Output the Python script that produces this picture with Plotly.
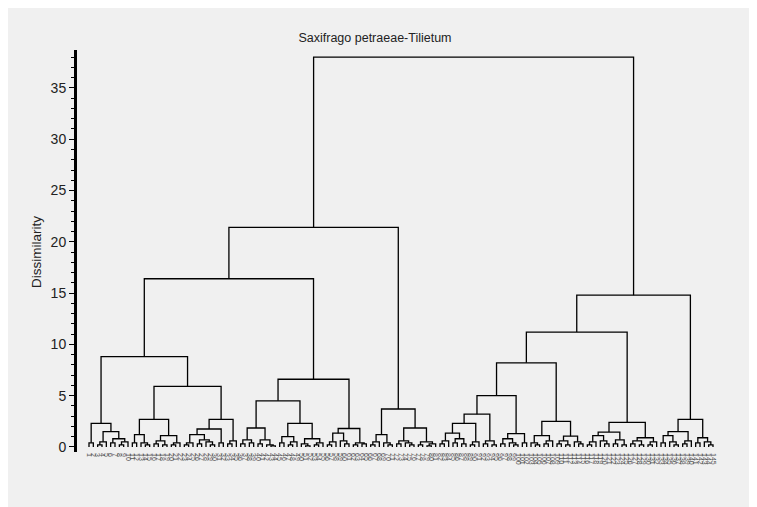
import plotly.graph_objects as go

X = 0  # a single relevé (leaf)

# ---- bottom-level clusters: [merge height, left, right] (heights = dissimilarity) ----
clA = [2.3, [0.4, X, X], [1.5, [0.5, [0.2, X, X], X], [0.8, [0.4, X, X], [0.5, [0.2, X, X], X]]]]
clB = [2.7, [1.2, [0.4, X, X], [0.4, X, [0.2, X, X]]], [1.1, [0.6, [0.3, X, X], [0.2, X, X]], [0.4, [0.2, X, X], X]]]
clC = [2.7, [1.75, [1.2, [0.4, [0.2, X, X], X], [0.7, [0.3, X, X], [0.5, X, [0.2, X, X]]]], [0.4, X, X]],
       [0.6, [0.3, X, X], X]]
clD = [4.5, [1.85, [0.7, [0.3, X, X], [0.4, X, X]], [0.7, [0.3, X, X], [0.2, X, [0.1, X, X]]]],
       [2.3, [1.0, [0.4, X, X], [0.5, [0.2, X, X], X]], [0.8, [0.3, X, [0.1, X, X]], [0.4, [0.2, X, X], X]]]]
clE = [1.8, [1.35, [0.5, [0.2, X, X], X], [0.6, X, [0.3, X, X]]], [0.4, [0.2, X, X], [0.3, X, X]]]
clF = [1.2, [0.5, [0.2, X, X], X], [0.4, X, [0.2, X, X]]]
clG = [1.85, [0.6, [0.3, X, X], [0.4, X, [0.2, X, X]]], [0.5, [0.2, X, X], [0.3, [0.1, X, X], X]]]
clK = [3.2, [2.3, [1.35, [0.6, [0.3, X, X], X], [0.8, [0.4, X, X], [0.3, X, X]]], [0.5, [0.2, X, X], X]],
       [0.6, [0.3, X, X], [0.2, X, X]]]
clL = [1.3, [0.8, [0.3, X, X], [0.4, X, [0.2, X, X]]], [0.4, X, X]]
clJ = [2.5, [1.1, [0.4, X, [0.2, X, X]], [0.6, [0.3, X, X], X]], [1.05, [0.6, [0.3, X, X], [0.2, X, X]], [0.5, X, [0.3, X, X]]]]
clI = [2.4, [1.45, [1.1, [0.5, [0.2, X, X], X], [0.6, X, [0.3, X, X]]], [0.7, [0.3, X, X], [0.2, X, X]]],
       [0.9, [0.6, [0.3, X, X], [0.2, X, X]], [0.5, [0.2, X, X], X]]]
clH = [2.7, [1.5, [1.1, [0.4, X, X], [0.5, X, [0.2, X, X]]], [0.6, [0.3, X, X], X]], [0.9, [0.4, X, X], [0.5, X, [0.2, X, X]]]]

# ---- upper merges ----
h_N7, h_N5, h_N6, h_N3, h_N4, h_N1 = 5.9, 8.8, 6.6, 16.4, 3.7, 21.4
h_N10, h_N9, h_N8, h_N2, h_root = 5.0, 8.2, 11.2, 14.8, 38.0

N7 = [h_N7, clB, clC]
N5 = [h_N5, clA, N7]
N6 = [h_N6, clD, clE]
N3 = [h_N3, N5, N6]
N4 = [h_N4, clF, clG]
N1 = [h_N1, N3, N4]
N10 = [h_N10, clK, clL]
N9 = [h_N9, N10, clJ]
N8 = [h_N8, N9, clI]
N2 = [h_N2, N8, clH]
root = [h_root, N1, N2]

title_text = "Saxifrago petraeae-Tilietum"
y_title = "Dissimilarity"
y_ticks = [0, 5, 10, 15, 20, 25, 30, 35]

# ---- layout the dendrogram through leaf order ----
xs, ys = [], []
leaf_pos = []

def walk(node):
    if not isinstance(node, list):
        p = len(leaf_pos)
        leaf_pos.append(p)
        return p, 0.0
    h, left, right = node
    xl, hl = walk(left)
    xr, hr = walk(right)
    xs.extend([xl, xl, xr, xr, None])
    ys.extend([hl, h, h, hr, None])
    return (xl + xr) / 2.0, h

walk(root)
N = len(leaf_pos)
leaf_labels = [str(i + 1) for i in range(N)]

fig = go.Figure()
fig.add_trace(go.Scatter(x=xs, y=ys, mode="lines",
                         line=dict(color="black", width=1.3), hoverinfo="skip"))

W, H = 757, 507
ml, mr, mt, mb = 69, 43, 42, 63
pw = W - ml - mr
ph = H - mt - mb
first_leaf_px, last_leaf_px = 81, 705
step = (last_leaf_px - first_leaf_px) / (N - 1)
r0 = -(first_leaf_px - ml) / step
r1 = r0 + pw / step

def px2paper_x(px):
    return (px - ml) / pw

def py2paper_y(py):
    return (H - mb - py) / ph

fig.update_layout(
    width=W, height=H,
    margin=dict(l=ml, r=mr, t=mt, b=mb),
    paper_bgcolor="#f0f0f0", plot_bgcolor="#f0f0f0",
    showlegend=False,
    font=dict(family="Liberation Sans, Arial, sans-serif", color="#222"),
    title=dict(text=title_text, x=367 / W, xref="container", xanchor="center",
               y=1 - 30 / H, yref="container", yanchor="middle",
               font=dict(size=12.5, color="#222")),
    xaxis=dict(range=[r0, r1], showgrid=False, zeroline=False, showline=False,
               tickmode="array", tickvals=leaf_pos, ticktext=leaf_labels,
               tickangle=90, tickfont=dict(size=7, color="#555"), ticks=""),
    yaxis=dict(range=[-0.49, 38.7], showgrid=False, zeroline=False,
               showline=True, linewidth=3, linecolor="black",
               tickmode="array", tickvals=y_ticks, ticks="outside", ticklen=5,
               tickwidth=1, tickcolor="black",
               tickfont=dict(size=14, color="#222"),
               minor=dict(dtick=1, ticks="outside", ticklen=3, tickcolor="black", tickwidth=1)),
    annotations=[dict(text=y_title, xref="paper", yref="paper",
                      x=px2paper_x(28), y=py2paper_y(244), textangle=-90,
                      showarrow=False, font=dict(size=13.5, color="#222"),
                      xanchor="center", yanchor="middle")],
)

fig.write_html("out.html")
